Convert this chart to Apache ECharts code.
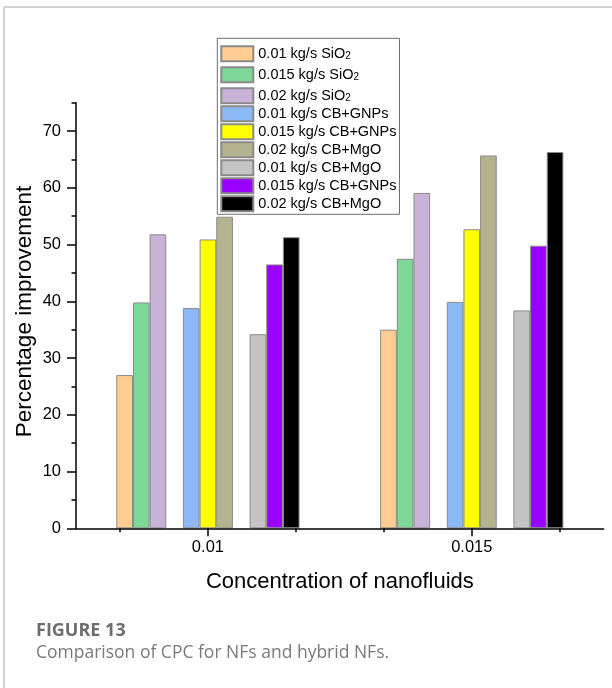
<!DOCTYPE html>
<html>
<head>
<meta charset="utf-8">
<script src="https://cdn.jsdelivr.net/npm/echarts@6/dist/echarts.min.js"></script>
<style>
  html, body { margin: 0; padding: 0; background: #ffffff; }
  #chart { width: 612px; height: 688px; }
</style>
</head>
<body>
<div id="chart"></div>
<script>
// Nanofluid concentration groups on the x axis
const categories = ['0.01', '0.015'];

// Percentage improvement per configuration (one value per concentration group)
const sio2_001   = [27.0, 35.0];
const sio2_0015  = [39.8, 47.5];
const sio2_002   = [51.8, 59.1];
const gnp_001    = [38.8, 39.9];
const gnp_0015   = [50.9, 52.7];
const mgo_002    = [54.9, 65.7];
const mgo_001    = [34.2, 38.4];
const gnp_0015b  = [46.5, 49.8];
const mgo_002b   = [51.3, 66.3];

// Legend wording (main text + subscript)
const legendText = [
  '0.01 kg/s SiO', '0.015 kg/s SiO', '0.02 kg/s SiO',
  '0.01 kg/s CB+GNPs', '0.015 kg/s CB+GNPs', '0.02 kg/s CB+MgO',
  '0.01 kg/s CB+MgO', '0.015 kg/s CB+GNPs', '0.02 kg/s CB+MgO'
];
const legendSub = ['2', '2', '2', '', '', '', '', '', ''];

const seriesKeys = ['sio2_001', 'sio2_0015', 'sio2_002', 'gnp_001', 'gnp_0015',
                    'mgo_002', 'mgo_001', 'gnp_0015b', 'mgo_002b'];
const seriesValues = [sio2_001, sio2_0015, sio2_002, gnp_001, gnp_0015,
                      mgo_002, mgo_001, gnp_0015b, mgo_002b];

// Styling
const palette = ['#FFCC91', '#7DD898', '#C8B2D8', '#8CB9F5', '#FFFF00',
                 '#B3B38F', '#C4C4C4', '#9900FF', '#000000'];
const FONT = "'Liberation Sans', Arial, sans-serif";
const CAPTION_FONT = "'Open Sans', sans-serif";
const BAR_W = 16.66;
const GRID = { left: 76, right: 8.3, top: 102.7, bottom: 159.7 };
const Y_MAX = 75;
const Y_MAJOR_MAX = 70;
// top of the major-tick grid sits where y = 70
const majorTop = GRID.top + (688 - GRID.top - GRID.bottom) * (Y_MAX - Y_MAJOR_MAX) / Y_MAX;

const series = [];
seriesKeys.forEach((key, i) => {
  // an empty slot separates each trio of bars
  if (i === 3 || i === 6) {
    series.push({
      name: 'gap' + i, type: 'bar', xAxisIndex: 0, yAxisIndex: 0,
      data: categories.map(() => '-'), barWidth: BAR_W, barGap: '0%',
      silent: true
    });
  }
  series.push({
    name: key,
    type: 'bar',
    xAxisIndex: 0,
    yAxisIndex: 0,
    data: seriesValues[i],
    barWidth: BAR_W,
    barGap: '0%',
    itemStyle: { color: palette[i], borderColor: '#8a8a8a', borderWidth: 1 },
    emphasis: { disabled: true }
  });
});

const chart = echarts.init(document.getElementById('chart'), null, { renderer: 'canvas' });

chart.setOption({
  animation: false,
  backgroundColor: '#ffffff',
  textStyle: { fontFamily: FONT },
  grid: [
    Object.assign({ outerBoundsMode: 'none', containLabel: false }, GRID),
    { left: GRID.left, right: GRID.right, top: majorTop, bottom: GRID.bottom,
      outerBoundsMode: 'none', containLabel: false }
  ],
  legend: {
    data: seriesKeys,
    orient: 'vertical',
    left: 217.3,
    top: 38.3,
    padding: [4, 3, 2, 3],
    itemGap: 1.0,
    itemWidth: 32,
    itemHeight: 15,
    icon: 'rect',
    backgroundColor: '#ffffff',
    borderColor: '#6f6f6f',
    borderWidth: 1,
    selectedMode: false,
    formatter: (name) => {
      const i = seriesKeys.indexOf(name);
      return legendSub[i]
        ? '{a|' + legendText[i] + '}{s|' + legendSub[i] + '}'
        : '{b|' + legendText[i] + '}';
    },
    textStyle: {
      fontFamily: FONT, fontSize: 14.5, color: '#000',
      rich: {
        a: { fontFamily: FONT, fontSize: 14.5, lineHeight: 15, color: '#000', verticalAlign: 'top' },
        b: { fontFamily: FONT, fontSize: 14.5, lineHeight: 15, color: '#000', verticalAlign: 'middle' },
        s: { fontFamily: FONT, fontSize: 10, lineHeight: 10, color: '#000',
             padding: [9, 0, 0, 0], verticalAlign: 'bottom' }
      }
    }
  },
  xAxis: [
    {
      gridIndex: 0,
      type: 'category',
      data: categories,
      position: 'bottom',
      z: 5,
      axisLine: { show: true, lineStyle: { color: '#000', width: 1.5 } },
      axisTick: { show: true, alignWithLabel: true, inside: false, length: 8,
                  lineStyle: { color: '#000', width: 1.5 } },
      axisLabel: { fontFamily: FONT, fontSize: 16.5, color: '#000', margin: 11 },
      splitLine: { show: false },
      name: 'Concentration of nanofluids',
      nameLocation: 'middle',
      nameGap: 43,
      nameTextStyle: { fontFamily: FONT, fontSize: 22, color: '#000' }
    },
    {
      // minor ticks: three per concentration band
      gridIndex: 1,
      type: 'category',
      data: ['m1', 'm2', 'm3', 'm4', 'm5', 'm6'],
      position: 'bottom',
      z: 5,
      axisLine: { show: false },
      axisTick: { show: true, alignWithLabel: true, length: 4,
                  lineStyle: { color: '#000', width: 1.5 } },
      axisLabel: { show: false },
      splitLine: { show: false }
    }
  ],
  yAxis: [
    {
      gridIndex: 0,
      type: 'value',
      min: 0,
      max: Y_MAX,
      interval: 5,
      z: 5,
      axisLine: { show: true, lineStyle: { color: '#000', width: 1.5 } },
      axisTick: { show: true, length: 4.5, lineStyle: { color: '#000', width: 1.5 } },
      axisLabel: { show: false },
      splitLine: { show: false },
      name: 'Percentage improvement',
      nameLocation: 'middle',
      nameGap: 40,
      nameTextStyle: { fontFamily: FONT, fontSize: 22.5, color: '#000', padding: [0, 0, 0, 8] }
    },
    {
      // major ticks and labels, 0 to 70 step 10
      gridIndex: 1,
      type: 'value',
      min: 0,
      max: Y_MAJOR_MAX,
      interval: 10,
      z: 5,
      axisLine: { show: false },
      axisTick: { show: true, length: 9, lineStyle: { color: '#000', width: 1.5 } },
      axisLabel: { fontFamily: FONT, fontSize: 16.5, color: '#000', margin: 15 },
      splitLine: { show: false }
    }
  ],
  series: series,
  graphic: [
    // figure frame (top and left edges)
    { type: 'line', z: 0, shape: { x1: 4, y1: 7, x2: 612, y2: 7 },
      style: { stroke: '#c4c4c4', lineWidth: 1.5 } },
    { type: 'line', z: 0, shape: { x1: 4, y1: 7, x2: 4, y2: 688 },
      style: { stroke: '#c4c4c4', lineWidth: 1.5 } },
    // caption
    { type: 'text', z: 10, left: 36, top: 622,
      style: { text: 'FIGURE 13', fontFamily: CAPTION_FONT, fontWeight: 'bold',
               fontSize: 18, fill: '#6d6d6d' } },
    { type: 'text', z: 10, left: 36, top: 644,
      style: { text: 'Comparison of CPC for NFs and hybrid NFs.', fontFamily: CAPTION_FONT,
               fontSize: 17.5, fill: '#7a7a7a' } }
  ]
});
</script>
</body>
</html>
